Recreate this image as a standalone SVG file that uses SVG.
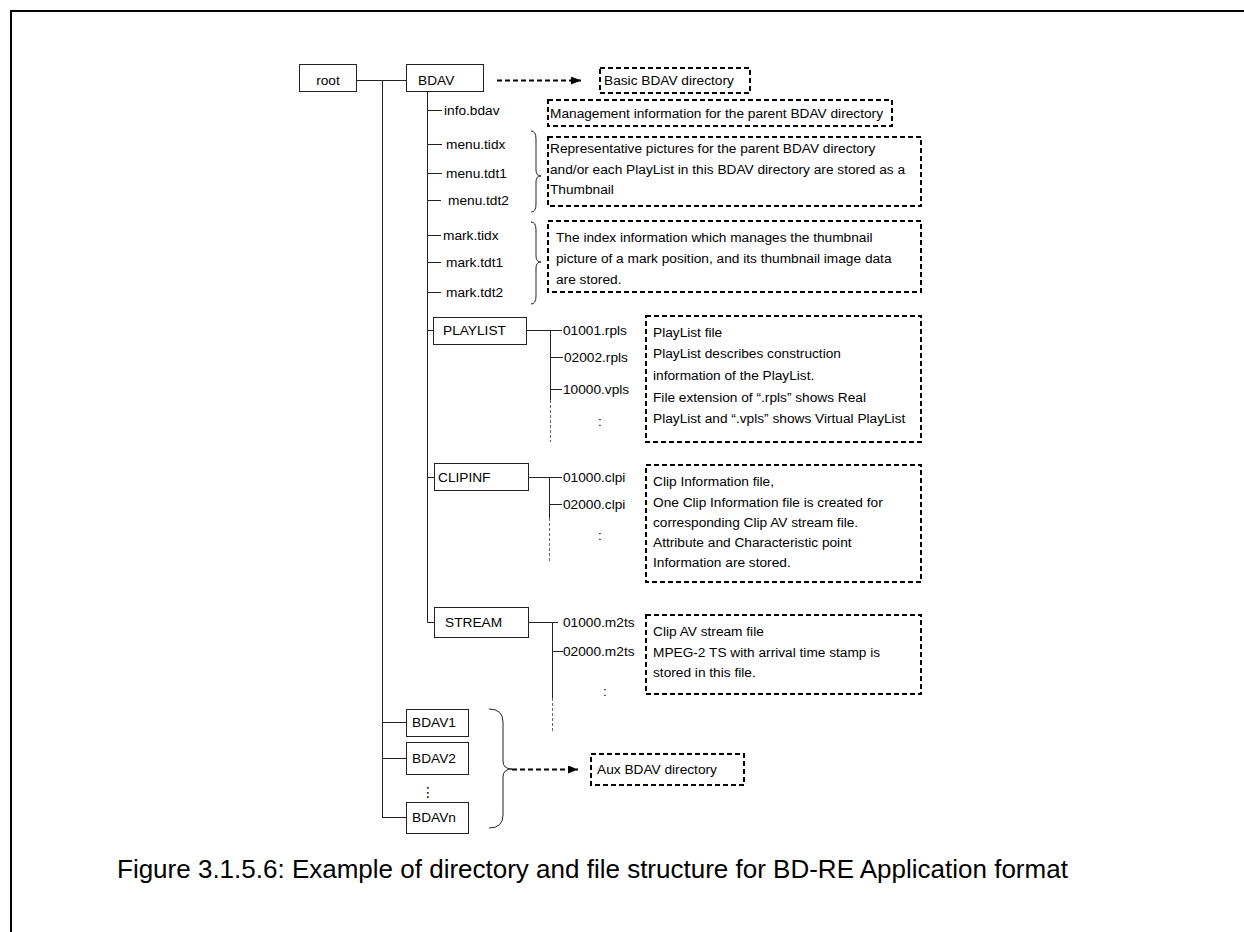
<svg xmlns="http://www.w3.org/2000/svg" width="1244" height="932" viewBox="0 0 1244 932">
<style>
text{font-family:"Liberation Sans",Arial,sans-serif;font-size:13.7px;fill:#000}
.box{fill:#fff;stroke:#222;stroke-width:1}
.note{fill:none;stroke:#000;stroke-width:2;stroke-dasharray:5 3}
.ln{fill:none;stroke:#222;stroke-width:1}
.dl{fill:none;stroke:#666;stroke-width:1;stroke-dasharray:3 2}
.arr{fill:none;stroke:#000;stroke-width:2;stroke-dasharray:5 3}
.br{fill:none;stroke:#222;stroke-width:1}
.cap{font-size:26px}
</style>
<defs>
<marker id="ah" viewBox="0 0 10 8" refX="10" refY="4" markerWidth="10" markerHeight="8" markerUnits="userSpaceOnUse" orient="auto">
<path d="M0,0 L10,4 L0,8 Z" fill="#000"/>
</marker>
</defs>
<rect width="1244" height="932" fill="#fff"/>
<g id="frame"><path d="M11,932 V11 H1244" fill="none" stroke="#000" stroke-width="2"/></g>

<g id="connectors">
<path class="ln" d="M356,80.5 H406"/>
<path class="ln" d="M382.5,80 V817.5 M382,722.5 H406 M382,758.5 H406 M382,817.5 H406"/>
<path class="ln" d="M427.5,91 V622.5 H434"/>
<path class="ln" d="M427,110.5 H442 M427,144.5 H442 M427,173.5 H442 M427,200.5 H441 M427,235.5 H441 M427,262.5 H441 M427,292.5 H441"/>
<path class="ln" d="M427,330.5 H433 M527,330.5 H562 M550.5,330 V400 M550,357.5 H563 M550,389.5 H562"/>
<path class="dl" d="M550.5,400 V442"/>
<path class="ln" d="M427,477.5 H434 M529,477.5 H562 M549.5,477 V518 M549,504.5 H562"/>
<path class="dl" d="M549.5,518 V563"/>
<path class="ln" d="M529,622.5 H558 M552.5,622 V698 M552,651.5 H563"/>
<path class="dl" d="M552.5,698 V732"/>
<path class="br" d="M531,131 Q536,131 536,139 V170 Q536,176 541,176 Q536,176 536,182 V204 Q536,212 531,212"/>
<path class="br" d="M531,222 Q536,222 536,230 V256 Q536,262 541,262 Q536,262 536,268 V296 Q536,304 531,304"/>
<path class="br" d="M489,709 Q503,709 503,722 V761 Q503,769 512,769 Q503,769 503,777 V815 Q503,828 489,828"/>
<path class="arr" d="M497,80.5 H581" marker-end="url(#ah)"/>
<path class="arr" d="M512,769.5 H578" marker-end="url(#ah)"/>
</g>

<g id="root"><rect class="box" x="299.5" y="64.5" width="57" height="27"/><text x="328" y="85" text-anchor="middle">root</text></g>
<g id="bdav"><rect class="box" x="406.5" y="64.5" width="77" height="27"/><text x="418" y="85">BDAV</text></g>

<g id="info-bdav"><text x="444" y="115">info.bdav</text></g>
<g id="menu-tidx"><text x="446" y="149">menu.tidx</text></g>
<g id="menu-tdt1"><text x="446" y="178">menu.tdt1</text></g>
<g id="menu-tdt2"><text x="448" y="205">menu.tdt2</text></g>
<g id="mark-tidx"><text x="443" y="240">mark.tidx</text></g>
<g id="mark-tdt1"><text x="446" y="267">mark.tdt1</text></g>
<g id="mark-tdt2"><text x="446" y="297">mark.tdt2</text></g>

<g id="playlist"><rect class="box" x="433.5" y="317.5" width="93" height="27"/><text x="443" y="335">PLAYLIST</text></g>
<g id="f01001"><text x="563" y="335">01001.rpls</text></g>
<g id="f02002"><text x="564" y="362">02002.rpls</text></g>
<g id="f10000"><text x="563" y="394">10000.vpls</text></g>
<g id="pl-more"><text x="598" y="426">:</text></g>

<g id="clipinf"><rect class="box" x="434.5" y="463.5" width="94" height="27"/><text x="438" y="482">CLIPINF</text></g>
<g id="c01000"><text x="563" y="482">01000.clpi</text></g>
<g id="c02000"><text x="563" y="509">02000.clpi</text></g>
<g id="cl-more"><text x="598" y="540">:</text></g>

<g id="stream"><rect class="box" x="434.5" y="607.5" width="94" height="30"/><text x="445" y="627">STREAM</text></g>
<g id="s01000"><text x="563" y="627">01000.m2ts</text></g>
<g id="s02000"><text x="563" y="656">02000.m2ts</text></g>
<g id="st-more"><text x="603" y="696">:</text></g>

<g id="bdav1"><rect class="box" x="406.5" y="709.5" width="62" height="27"/><text x="412" y="727">BDAV1</text></g>
<g id="bdav2"><rect class="box" x="406.5" y="742.5" width="62" height="32"/><text x="412" y="763">BDAV2</text></g>
<g id="bdav-dots"><text x="428" y="797" text-anchor="middle" style="font-family:'DejaVu Sans',sans-serif;font-size:14px">⋮</text></g>
<g id="bdavn"><rect class="box" x="406.5" y="802.5" width="62" height="31"/><text x="412" y="822">BDAVn</text></g>

<g id="note-basic"><rect class="note" x="600" y="68" width="150" height="25"/><text x="604" y="85">Basic BDAV directory</text></g>
<g id="note-info"><rect class="note" x="548" y="100" width="344" height="26"/><text x="550" y="118">Management information for the parent BDAV directory</text></g>
<g id="note-menu"><rect class="note" x="548" y="137" width="373" height="69"/>
<text x="550" y="153">Representative pictures for the parent BDAV directory</text>
<text x="550" y="174">and/or each PlayList in this BDAV directory are stored as a</text>
<text x="550" y="194">Thumbnail</text></g>
<g id="note-mark"><rect class="note" x="548" y="221" width="373" height="71"/>
<text x="556" y="242">The index information which manages the thumbnail</text>
<text x="556" y="263">picture of a mark position, and its thumbnail image data</text>
<text x="556" y="284">are stored.</text></g>
<g id="note-playlist"><rect class="note" x="646" y="316" width="275" height="126"/>
<text x="653" y="337">PlayList file</text>
<text x="653" y="358">PlayList describes construction</text>
<text x="653" y="380">information of the PlayList.</text>
<text x="653" y="402">File extension of “.rpls” shows Real</text>
<text x="653" y="423">PlayList and “.vpls” shows Virtual PlayList</text></g>
<g id="note-clipinf"><rect class="note" x="646" y="465" width="275" height="117"/>
<text x="653" y="486">Clip Information file,</text>
<text x="653" y="507">One Clip Information file is created for</text>
<text x="653" y="527">corresponding Clip AV stream file.</text>
<text x="653" y="547">Attribute and Characteristic point</text>
<text x="653" y="567">Information are stored.</text></g>
<g id="note-stream"><rect class="note" x="646" y="615" width="275" height="79"/>
<text x="653" y="636">Clip AV stream file</text>
<text x="653" y="657">MPEG-2 TS with arrival time stamp is</text>
<text x="653" y="677">stored in this file.</text></g>
<g id="note-aux"><rect class="note" x="591" y="754" width="153" height="31"/><text x="597" y="774">Aux BDAV directory</text></g>

<g id="caption"><text class="cap" x="117" y="878">Figure 3.1.5.6: Example of directory and file structure for BD-RE Application format</text></g>
</svg>
